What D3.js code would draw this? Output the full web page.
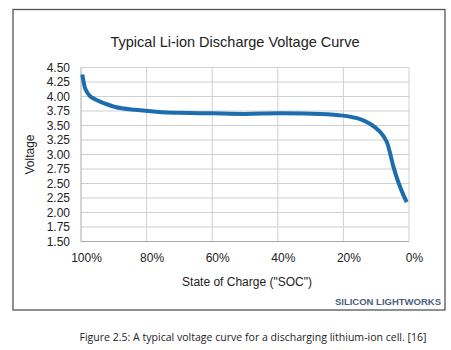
<!DOCTYPE html>
<html>
<head>
<meta charset="utf-8">
<script src="https://cdn.jsdelivr.net/npm/d3@7"></script>
<style>
  body { margin: 0; background: #fff; }
  svg { display: block; font-family: "Liberation Sans", Arial, sans-serif; }
</style>
</head>
<body>
<svg id="chart" width="451" height="350"></svg>
<script>
// state of charge (%) and cell voltage (V)
var soc = [99.6, 99.2, 98.8, 98.0, 97.3, 96.0, 94.2, 89.6, 83.5, 75.4, 70, 60, 50, 40, 27.1, 20.1, 14.9, 11.9, 8.8, 6.8, 5.8, 4.8, 3.3, 1.7, 0.7];
var volts = [4.38, 4.25, 4.15, 4.06, 4.01, 3.96, 3.91, 3.82, 3.77, 3.73, 3.72, 3.71, 3.70, 3.71, 3.70, 3.67, 3.61, 3.53, 3.39, 3.22, 3.03, 2.80, 2.53, 2.30, 2.18];
var xTicks = [100, 80, 60, 40, 20, 0];
var yTicks = [4.50, 4.25, 4.00, 3.75, 3.50, 3.25, 3.00, 2.75, 2.50, 2.25, 2.00, 1.75, 1.50];

var svg = d3.select("#chart");
var m = { left: 81, right: 409, top: 67.5, bottom: 241.5 };

var x = d3.scaleLinear().domain([100, 0]).range([m.left, m.right]);
var y = d3.scaleLinear().domain([1.5, 4.5]).range([m.bottom, m.top]);

// outer frame
svg.append("rect")
    .attr("x", 13).attr("y", 9.5).attr("width", 432).attr("height", 300.5)
    .attr("fill", "#fff").attr("stroke", "#555").attr("stroke-width", 1.3);

svg.append("text")
    .attr("x", 235).attr("y", 47)
    .attr("text-anchor", "middle")
    .style("font-size", "14.5px").attr("fill", "#222")
    .text("Typical Li-ion Discharge Voltage Curve");

// grid
var grid = svg.append("g");
grid.selectAll("line.h").data(yTicks).enter().append("line")
    .attr("x1", m.left).attr("x2", m.right)
    .attr("y1", function (d) { return y(d); }).attr("y2", function (d) { return y(d); })
    .attr("stroke", "#cfcfcf").attr("stroke-width", 1);
grid.selectAll("line.v").data(xTicks).enter().append("line")
    .attr("y1", m.top).attr("y2", m.bottom)
    .attr("x1", function (d) { return x(d); }).attr("x2", function (d) { return x(d); })
    .attr("stroke", function (d) { return d == 100 ? "#aaa" : "#cfcfcf"; }).attr("stroke-width", 1);
svg.append("line")
    .attr("x1", m.left).attr("x2", m.right).attr("y1", m.bottom).attr("y2", m.bottom)
    .attr("stroke", "#aaa");

// axes (labels only)
var yAxis = svg.append("g")
    .attr("transform", "translate(" + (m.left - 11) + ",0)")
    .call(d3.axisLeft(y).tickValues(yTicks).tickFormat(d3.format(".2f")).tickSize(0).tickPadding(0));
yAxis.select(".domain").remove();
yAxis.selectAll("text").style("font-size", "12px").style("font-family", "Liberation Sans, Arial, sans-serif").attr("fill", "#222");

var xAxis = svg.append("g")
    .attr("transform", "translate(5," + (m.bottom + 12) + ")")
    .call(d3.axisBottom(x).tickValues(xTicks).tickFormat(function (d) { return d + "%"; }).tickSize(0).tickPadding(0));
xAxis.select(".domain").remove();
xAxis.selectAll("text").style("font-size", "12px").style("font-family", "Liberation Sans, Arial, sans-serif").attr("fill", "#222");

svg.append("text")
    .attr("transform", "translate(34," + ((m.top + m.bottom) / 2) + ") rotate(-90)")
    .attr("text-anchor", "middle")
    .style("font-size", "12px").attr("fill", "#222")
    .text("Voltage");

svg.append("text")
    .attr("x", 247).attr("y", 286)
    .attr("text-anchor", "middle")
    .style("font-size", "12px").attr("fill", "#222")
    .text("State of Charge (\"SOC\")");

// curve
var line = d3.line()
    .x(function (d, i) { return x(soc[i]); })
    .y(function (d, i) { return y(volts[i]); })
    .curve(d3.curveCatmullRom.alpha(0.5));
svg.append("path")
    .datum(soc)
    .attr("d", line)
    .attr("fill", "none")
    .attr("stroke", "#1c6cb0")
    .attr("stroke-width", 4)
    .attr("stroke-linecap", "butt");

svg.append("text")
    .attr("x", 441).attr("y", 305)
    .attr("text-anchor", "end")
    .style("font-size", "9.5px").style("font-weight", "bold").attr("fill", "#4a6080")
    .text("SILICON LIGHTWORKS");

svg.append("text")
    .attr("x", 253).attr("y", 341)
    .attr("text-anchor", "middle")
    .attr("textLength", 347).attr("lengthAdjust", "spacingAndGlyphs")
    .style("font-family", "\"Open Sans\", sans-serif")
    .style("font-size", "10.5px").attr("fill", "#222")
    .text("Figure 2.5: A typical voltage curve for a discharging lithium-ion cell. [16]");
</script>
</body>
</html>
